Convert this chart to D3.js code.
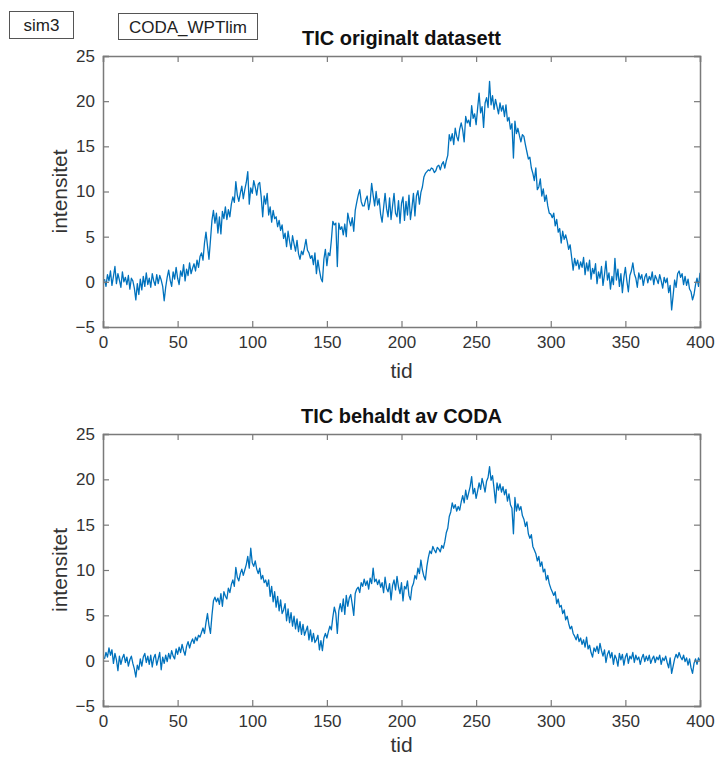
<!DOCTYPE html>
<html><head><meta charset="utf-8">
<script src="https://cdn.jsdelivr.net/npm/d3@7"></script>
<style>body{margin:0;background:#fff;} svg{display:block;}</style>
</head><body>
<script>
const xTicks = [0,50,100,150,200,250,300,350,400];
const yTicks = [-5,0,5,10,15,20,25];
const titles = ["TIC originalt datasett", "TIC behaldt av CODA"];
const xLabel = "tid";
const yLabel = "intensitet";
const boxLabels = ["sim3", "CODA_WPTlim"];

const original = [
0.3,-0.5,0.8,0.1,1.2,-0.4,0.6,1.7,-0.2,0.9,
0.2,-0.6,1.1,0.0,0.5,-0.3,0.7,-0.8,0.4,0.1,
-0.7,-2.0,-0.2,-1.4,0.3,-0.9,0.6,-0.5,1.0,-0.3,
0.4,-0.6,0.9,0.1,-0.4,0.8,-0.2,0.7,0.2,-0.5,
-2.1,-0.6,0.5,1.3,0.2,-0.5,1.1,0.3,1.6,0.4,
-0.3,1.2,0.6,1.9,0.1,1.4,0.7,2.1,0.9,1.5,
2.0,1.2,2.4,1.6,2.8,3.2,2.4,4.3,5.5,4.0,
2.5,4.6,6.8,7.9,6.5,7.6,5.4,7.2,5.3,7.8,
7.0,8.3,6.9,8.0,7.2,8.6,9.4,8.8,11.1,9.6,
8.9,9.8,10.6,9.2,10.2,11.0,12.2,8.6,10.4,9.8,
11.2,10.5,9.6,10.8,11.0,9.4,7.2,9.5,8.6,9.8,
7.4,8.3,6.6,7.9,7.0,7.2,6.1,6.8,5.7,6.3,
4.8,5.4,3.9,5.6,4.5,3.6,5.1,4.2,3.4,4.6,
3.1,2.5,3.4,3.0,3.8,4.7,3.5,3.2,2.6,2.9,
1.9,3.2,0.9,2.4,1.3,0.4,0.0,2.5,3.6,1.8,
3.2,2.9,4.6,6.7,6.3,6.5,1.7,6.5,5.8,6.1,
5.2,6.4,5.0,7.6,6.8,6.2,7.1,5.6,7.9,8.8,
9.6,10.2,8.9,8.4,8.4,9.1,9.5,8.0,8.9,10.9,
9.6,8.4,10.0,8.5,9.2,7.5,6.6,8.2,9.8,8.1,
7.2,9.3,6.9,8.4,9.8,7.6,7.2,9.0,6.5,8.7,
9.4,6.8,8.9,7.4,9.6,6.9,8.2,9.8,7.3,9.5,
10.1,8.6,9.9,10.5,11.6,12.0,12.2,12.4,12.3,12.6,
12.5,12.1,12.3,12.8,12.9,12.4,13.0,13.3,12.6,13.4,
14.0,16.3,15.6,16.4,15.2,17.0,16.1,15.6,16.9,17.6,
16.8,15.5,18.3,17.6,17.9,17.2,19.5,18.1,18.6,17.4,
19.2,20.9,18.7,19.4,17.1,19.8,20.4,19.3,22.2,19.6,
20.6,19.1,20.2,19.4,18.6,19.8,18.9,19.5,18.3,19.6,
17.8,18.2,16.9,17.5,13.7,17.8,16.4,17.0,16.2,15.5,
16.3,16.1,15.2,14.4,13.6,13.8,12.6,12.0,11.2,12.6,
10.2,10.5,11.4,9.5,10.3,8.9,9.6,8.4,7.6,7.5,
7.1,7.6,6.2,6.9,5.5,5.9,4.3,5.6,4.7,5.2,
4.5,3.6,4.1,2.7,1.3,2.6,1.8,2.4,1.4,2.2,
1.6,2.7,0.8,2.1,1.2,2.4,0.3,1.5,0.9,2.0,
-0.2,1.1,0.4,1.7,-0.4,0.8,2.3,0.2,1.0,-0.8,
0.6,-0.3,2.6,0.2,1.4,-0.5,0.9,-1.2,0.5,1.6,
0.1,-1.1,0.7,1.2,2.1,0.9,0.4,-0.6,1.0,0.3,
0.8,-0.4,0.5,0.9,-0.1,0.6,0.2,1.1,-0.3,0.7,
0.3,-0.2,0.8,0.1,-0.7,0.5,-0.1,0.4,-1.2,-0.4,
-3.1,-1.5,0.2,-0.6,0.9,1.2,0.5,0.9,-0.3,0.6,
-0.4,0.3,-0.8,-1.1,-2.0,-1.4,-0.3,0.4,-0.5,1.0
];

const retained = [
0.2,0.9,0.4,1.4,0.6,1.2,-0.3,0.8,0.1,-1.1,
0.5,-0.4,0.3,0.7,-0.2,0.4,-0.6,0.1,0.5,-0.3,
-0.9,-1.8,-0.5,-1.0,0.2,-0.6,0.4,0.8,-0.2,0.5,
-0.4,0.6,-0.7,0.3,0.7,-0.5,0.2,0.9,-1.0,0.4,
-0.3,0.6,-0.1,0.8,0.2,1.1,0.5,0.2,1.3,0.7,
1.5,0.9,1.8,1.1,0.6,1.6,2.1,1.4,2.0,2.4,
1.9,2.6,2.2,2.8,2.6,3.1,3.6,3.0,4.2,5.2,
3.9,3.0,5.0,6.6,7.0,6.5,6.9,6.2,7.4,6.0,
7.6,7.1,6.8,8.0,7.5,8.4,8.9,8.2,10.3,9.2,
8.8,9.6,10.1,9.4,10.0,10.6,11.5,10.2,12.4,10.8,
10.4,11.0,10.1,9.6,10.2,9.0,9.4,8.6,8.9,8.2,
8.9,7.1,8.2,6.5,7.6,5.9,7.1,5.5,6.7,5.2,
5.6,6.3,4.4,5.7,4.2,5.3,3.8,4.9,3.5,4.6,
3.2,4.3,2.9,4.0,2.8,3.3,3.8,2.3,3.4,2.1,
3.0,2.0,2.3,2.8,1.2,2.2,1.1,2.5,3.0,2.5,
3.2,3.8,3.4,4.8,5.9,5.2,3.0,5.5,6.3,5.4,
6.8,5.1,7.2,6.0,6.9,7.3,6.2,5.0,7.4,7.9,
8.1,7.5,8.6,8.2,9.0,8.3,8.8,7.9,9.1,8.5,
10.2,8.7,9.0,8.4,8.9,8.1,8.6,7.5,9.2,8.0,
7.6,8.5,6.7,8.3,8.9,7.8,9.3,8.1,7.4,8.6,
6.6,8.2,7.9,8.8,7.2,6.7,8.1,8.5,9.4,9.0,
10.2,9.6,11.1,10.0,9.3,8.9,10.4,11.4,12.1,11.8,
12.6,12.2,11.9,12.5,12.3,12.0,12.7,12.4,13.1,14.1,
14.6,15.9,16.4,17.4,16.8,17.2,16.5,17.0,16.6,17.5,
18.2,17.4,18.8,17.8,18.5,19.2,20.3,18.4,19.0,17.9,
18.7,19.6,18.9,20.1,19.4,18.6,19.8,20.2,21.4,19.9,
20.4,19.0,17.4,19.6,18.8,19.5,18.6,19.2,18.3,18.9,
17.6,18.4,17.2,16.8,14.0,18.0,16.5,17.3,16.6,17.0,
16.0,15.6,14.8,15.3,14.0,13.5,13.9,12.6,12.2,11.8,
11.0,11.5,10.4,10.9,9.8,10.1,8.9,9.4,8.5,8.0,
7.6,7.2,7.6,6.3,6.8,5.9,6.1,5.2,5.6,4.5,
4.9,4.1,3.5,3.8,3.0,2.7,2.3,2.9,2.1,2.5,
1.8,2.3,1.5,2.6,1.3,1.7,0.9,0.4,1.4,1.0,
1.6,0.8,1.9,1.1,0.5,1.2,-0.2,0.7,1.1,0.3,
0.9,-0.4,0.6,0.2,-0.6,0.8,0.1,0.7,-0.5,0.4,
0.8,-0.3,0.5,0.2,0.9,-0.2,0.6,0.1,0.4,-0.4,
0.3,0.7,-0.1,0.5,0.0,0.6,-0.3,0.2,0.5,-0.2,
0.4,0.1,0.6,-0.4,0.3,0.0,0.5,-0.2,-0.8,0.3,
-1.4,-0.6,0.2,0.7,0.3,0.9,0.4,0.1,0.6,-0.1,
0.3,-0.5,0.2,-0.8,-1.4,-0.3,0.2,-0.4,0.3,0.0
];

const W = 717, H = 758;
const svg = d3.select("body").append("svg").attr("width", W).attr("height", H)
  .style("font-family", "'Liberation Sans', Arial, Helvetica, sans-serif");

const axColor = "#7a7a7a", txtColor = "#333333", lineColor = "#0072BD";

// header boxes
const boxes = [{x:9,y:11,w:64,h:27},{x:118,y:13,w:139,h:26}];
boxes.forEach((b,i)=>{
  svg.append("rect").attr("x",b.x+0.5).attr("y",b.y+0.5).attr("width",b.w).attr("height",b.h)
    .attr("fill","#fff").attr("stroke","#555").attr("stroke-width",1);
  svg.append("text").attr("x",b.x+b.w/2+0.5).attr("y",b.y+b.h/2+6.5).attr("text-anchor","middle")
    .attr("font-size",17).attr("fill","#222").text(boxLabels[i]);
});

const panels = [
  {top:56, bottom:327, data: original, title: titles[0], xlabOff: 51},
  {top:434, bottom:706, data: retained, title: titles[1], xlabOff: 46}
];
const left = 103, right = 700;

panels.forEach(p=>{
  const x = d3.scaleLinear().domain([0,400]).range([left,right]);
  const y = d3.scaleLinear().domain([-5,25]).range([p.bottom,p.top]);
  const g = svg.append("g");

  // data line
  const line = d3.line().x((d,i)=>x(i+1)).y(d=>y(d));
  g.append("path").datum(p.data).attr("d",line).attr("fill","none")
    .attr("stroke",lineColor).attr("stroke-width",1.3).attr("stroke-linejoin","round");

  // axes
  const tickLen = 6;
  const xb = g.append("g").attr("transform",`translate(0,${p.bottom})`)
    .call(d3.axisBottom(x).tickValues(xTicks).tickSize(-tickLen).tickPadding(9).tickFormat(d3.format("d")));
  const xt = g.append("g").attr("transform",`translate(0,${p.top})`)
    .call(d3.axisTop(x).tickValues(xTicks).tickSize(-tickLen).tickFormat(""));
  const yl = g.append("g").attr("transform",`translate(${left},0)`)
    .call(d3.axisLeft(y).tickValues(yTicks).tickSize(-tickLen).tickPadding(8).tickFormat(d3.format("d")));
  const yr = g.append("g").attr("transform",`translate(${right},0)`)
    .call(d3.axisRight(y).tickValues(yTicks).tickSize(-tickLen).tickFormat(""));
  [xb,xt,yl,yr].forEach(a=>{
    a.select(".domain").attr("stroke",axColor).attr("stroke-width",1.5);
    a.selectAll(".tick line").attr("stroke",axColor).attr("stroke-width",1.2);
    a.selectAll(".tick text").attr("fill",txtColor).attr("font-size",17)
      .attr("font-family","'Liberation Sans', Arial, sans-serif");
  });

  // title
  svg.append("text").attr("x",(left+right)/2).attr("y",p.top-11).attr("text-anchor","middle")
    .attr("font-size",20).attr("font-weight","bold").attr("fill","#111").text(p.title);
  // x label
  svg.append("text").attr("x",(left+right)/2).attr("y",p.bottom+p.xlabOff).attr("text-anchor","middle")
    .attr("font-size",21).attr("fill",txtColor).text(xLabel);
  // y label
  svg.append("text").attr("transform",`translate(67,${(p.top+p.bottom)/2}) rotate(-90)`)
    .attr("text-anchor","middle").attr("font-size",21).attr("fill",txtColor).text(yLabel);
});
</script>
</body></html>
